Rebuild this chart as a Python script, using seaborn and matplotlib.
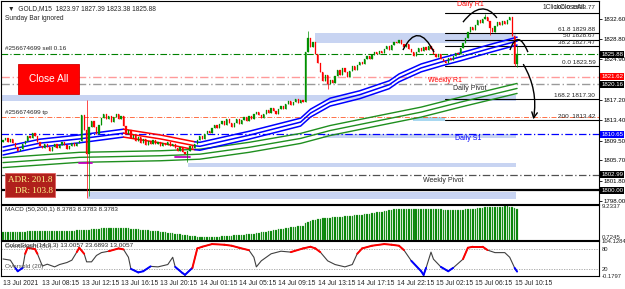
import numpy as np
import matplotlib
matplotlib.use("Agg")
import matplotlib.pyplot as plt
import seaborn as sns
from matplotlib.patches import Rectangle, PathPatch
from matplotlib.path import Path

# ---------------- data (GOLD M15) ----------------
closes = [
    1809.6, 1809.9, 1809.3, 1809.7, 1809.0, 1808.2, 1807.6, 1807.9, 1808.8, 1809.5, 1810.3, 1810.0, 1811.0, 1810.4, 1809.2, 1808.4,
    1808.0, 1808.9, 1808.3, 1807.5, 1808.2, 1808.9, 1808.1, 1808.6, 1809.3, 1808.7, 1807.9, 1808.5, 1809.1, 1808.4, 1809.0, 1809.4,
    1814.3, 1811.5, 1807.0, 1812.0, 1813.2, 1812.0, 1810.8, 1812.5, 1813.8, 1814.6, 1813.5, 1814.2, 1813.0, 1813.9, 1814.5, 1813.6,
    1814.1, 1812.3, 1810.8, 1811.5, 1809.9, 1810.6, 1809.4, 1810.2, 1809.0, 1809.8, 1808.7, 1809.5, 1808.9, 1809.6, 1808.8, 1809.3,
    1808.5, 1809.1, 1808.6, 1809.2, 1808.4, 1808.9, 1808.1, 1807.6, 1808.2, 1807.4, 1806.9, 1807.6, 1808.4, 1808.0, 1808.9, 1809.6,
    1810.3, 1809.8, 1810.7, 1811.4, 1811.0, 1811.9, 1812.4, 1811.8, 1812.6, 1813.2, 1812.5, 1813.6, 1812.9, 1812.1, 1812.8, 1813.5,
    1812.7, 1813.4, 1814.0, 1813.3, 1814.2, 1813.6, 1814.5, 1815.0, 1814.3, 1813.7, 1814.6, 1815.3, 1814.8, 1815.6, 1815.1, 1814.5,
    1815.4, 1816.0, 1815.5, 1816.4, 1817.0, 1816.3, 1816.8, 1817.4, 1816.6, 1817.2, 1816.9, 1826.3, 1829.0, 1827.2, 1828.3, 1826.0,
    1824.3, 1822.6, 1820.8, 1821.9, 1820.2, 1821.0, 1820.4, 1821.8, 1822.9, 1822.0, 1823.3, 1822.5, 1821.6, 1822.8, 1823.6, 1822.9,
    1823.8, 1824.5, 1824.0, 1824.9, 1825.6, 1825.0, 1825.8, 1826.3, 1825.9, 1826.6, 1826.1, 1826.9, 1827.4, 1826.8, 1827.6, 1828.3,
    1828.0, 1828.7, 1827.9, 1827.2, 1827.8, 1826.9, 1826.3, 1825.5, 1826.4, 1827.0, 1826.5, 1827.3, 1826.8, 1827.5, 1826.9, 1826.0,
    1825.4, 1825.9, 1825.0, 1824.6, 1824.3, 1825.1, 1824.8, 1825.6, 1826.2, 1825.9, 1827.1, 1828.0, 1829.0, 1830.1, 1831.0, 1830.6,
    1831.5, 1832.4, 1831.8, 1832.6, 1833.0, 1832.2, 1830.8, 1830.2, 1831.3, 1832.0, 1831.5, 1832.3, 1831.7, 1832.4, 1832.9, 1829.4,
    1823.97, 1825.88,
]
first_open = 1809.2
wick_high = {34: 1817.2, 124: 1830.4, 196: 1833.6, 209: 1827.39}
wick_low = {34: 1798.5, 35: 1799.0, 75: 1805.5, 132: 1819.2, 198: 1829.6, 208: 1823.59, 209: 1823.38}

# wave MA (middle line) and slow MA (middle line), sampled along the chart
fast_bars = [0, 15, 31, 49, 64, 78, 80, 100, 121, 125, 133, 145, 157, 161, 170, 178, 186, 198, 209]
fast_mid = [1807.5, 1809.0, 1809.8, 1810.9, 1809.8, 1808.5, 1808.4, 1810.5, 1813.0, 1814.7, 1816.8,
            1818.2, 1820.1, 1821.4, 1823.3, 1824.4, 1825.4, 1827.0, 1828.4]
fast_spread = 0.75
fast_falling = (49, 78)
slow_bars = [0, 31, 64, 80, 100, 121, 133, 153, 170, 186, 209]
slow_mid = [1805.3, 1806.3, 1806.6, 1806.9, 1808.2, 1809.9, 1811.4, 1813.3, 1814.9, 1816.8, 1819.4]
slow_spread = 0.95

macd_hist = [
    2.10, 2.12, 2.15, 2.13, 2.15, 2.18, 2.17, 2.20, 2.22, 2.25, 2.27, 2.28, 2.30, 2.32, 2.33, 2.32,
    2.33, 2.35, 2.36, 2.35, 2.37, 2.38, 2.40, 2.42, 2.43, 2.45, 2.46, 2.48, 2.50, 2.52, 2.55, 2.58,
    2.70, 2.78, 2.62, 2.80, 2.88, 2.95, 2.98, 3.05, 3.10, 3.15, 3.18, 3.20, 3.22, 3.24, 3.25, 3.26,
    3.27, 3.24, 3.18, 3.12, 3.05, 2.98, 2.92, 2.85, 2.78, 2.72, 2.65, 2.58, 2.52, 2.45, 2.38, 2.30,
    2.22, 2.13, 2.04, 1.95, 1.86, 1.77, 1.67, 1.57, 1.48, 1.38, 1.28, 1.18, 1.08, 0.98, 0.90, 0.83,
    0.78, 0.75, 0.73, 0.72, 0.73, 0.75, 0.78, 0.82, 0.86, 0.90, 0.95, 1.00, 1.05, 1.10, 1.15, 1.20,
    1.27, 1.33, 1.40, 1.47, 1.55, 1.62, 1.70, 1.80, 1.90, 2.00, 2.10, 2.22, 2.34, 2.46, 2.58, 2.70,
    2.82, 2.95, 3.08, 3.20, 3.32, 3.42, 3.52, 3.60, 3.68, 3.75, 3.85, 4.55, 4.95, 5.20, 5.40, 5.58,
    5.72, 5.84, 5.92, 6.00, 6.06, 6.12, 6.18, 6.24, 6.30, 6.36, 6.42, 6.48, 6.55, 6.62, 6.68, 6.75,
    6.82, 6.90, 6.98, 7.06, 7.15, 7.24, 7.34, 7.44, 7.55, 7.66, 7.78, 7.90, 8.02, 8.14, 8.26, 8.38,
    8.48, 8.55, 8.60, 8.62, 8.63, 8.62, 8.60, 8.58, 8.56, 8.55, 8.54, 8.53, 8.52, 8.50, 8.48, 8.46,
    8.44, 8.42, 8.40, 8.36, 8.30, 8.26, 8.24, 8.25, 8.27, 8.30, 8.33, 8.36, 8.40, 8.44, 8.50, 8.56,
    8.62, 8.70, 8.78, 8.86, 8.93, 8.98, 9.02, 9.06, 9.10, 9.14, 9.17, 9.20, 9.22, 9.23, 9.20, 9.05,
    8.72, 8.38,
]

stoch_bars = [0, 3, 5, 6, 8, 9, 10, 13, 14, 16, 18, 21, 23, 26, 28, 30, 31, 33, 34, 36, 38, 40, 43, 47, 49,
              51, 52, 55, 57, 60, 63, 67, 69, 70, 73, 74, 77, 79, 81, 85, 90, 93, 96, 100, 102, 103, 105,
              109, 113, 117, 122, 125, 127, 129, 132, 135, 139, 142, 144, 146, 150, 155, 158, 161, 163,
              166, 170, 171, 172, 174, 175, 178, 181, 183, 187, 189, 191, 195, 197, 200, 204, 206, 208, 209]
stoch_vals = [50.6, 47, 24, 14, 24, 66, 84, 80, 66, 29.5, 35, 27, 34, 40, 47, 71, 84, 66, 42, 42, 61, 69.5,
              73.7, 82, 79, 55.6, 21, 10.5, 14, 28.5, 27, 34, 55.6, 27, 8.4, 3.3, 24, 82, 87, 95, 93, 90, 84,
              76.7, 55.6, 27, 45, 66, 73.7, 71, 82, 87, 82, 71, 45, 34, 27, 34, 66, 82, 90, 95, 93, 90, 77,
              45, 14, 3, 24, 71, 50, 27, 14, 24, 50, 84, 87, 87, 77, 69.5, 69.5, 55.6, 24, 13.0]

time_labels = ["13 Jul 2021", "13 Jul 08:15", "13 Jul 12:15", "13 Jul 16:15", "13 Jul 20:15",
               "14 Jul 01:15", "14 Jul 05:15", "14 Jul 09:15", "14 Jul 13:15", "14 Jul 17:15",
               "14 Jul 22:15", "15 Jul 02:15", "15 Jul 06:15", "15 Jul 10:15"]
time_label_bars = [0, 16, 32, 48, 64, 80, 96, 112, 128, 144, 160, 176, 192, 208]

price_ticks = [1832.60, 1828.80, 1824.90, 1817.20, 1813.40, 1809.50, 1805.70, 1801.80, 1798.00]

# horizontal levels: price, colour, style, width
levels = [
    (1825.95, "#008000", (0, (6, 2, 1, 2)), 0.8),  # sell order
    (1821.62, "#ff9a9a", (0, (6, 2, 1, 2)), 1.0),  # weekly R1
    (1820.16, "#9a9a9a", (0, (6, 2, 1, 2)), 1.0),  # daily pivot
    (1813.95, "#ff5a2a", (0, (6, 2, 1, 2)), 0.6),  # tp
    (1810.65, "#0000ff", (0, (6, 2, 1, 2)), 0.9),  # daily S1
    (1802.99, "#505050", (0, (6, 2, 1, 2)), 0.9),  # weekly pivot
    (1800.00, "#000000", "-", 1.6),
]
price_tags = [(1825.88, "black"), (1821.62, "#ff0000"), (1820.16, "black"),
              (1810.65, "#0000ff"), (1802.99, "black"), (1800.00, "black")]

fib_start = 179.7
fib_levels = [(1833.77, ""), (1829.88, "61.8 1829.88"), (1828.67, "50 1828.67"), (1827.47, "38.2 1827.47"),
              (1823.59, "0.0 1823.59"), (1817.30, "168.2 1817.30"), (1813.42, "200  1813.42")]

# zones: bar from, bar to, price low, price high, colour
zones = [
    (126.8, 208.5, 1828.0, 1829.9, "#c8d4f2"),
    (-1, 208.5, 1817.0, 1818.15, "#c8d4f2"),
    (166.7, 179.7, 1813.2, 1813.97, "#a8d8f0"),
    (130, 208.5, 1810.0, 1810.74, "#c8d4f2"),
    (75.2, 208.5, 1804.46, 1805.2, "#c8d4f2"),
    (34.6, 208.5, 1798.4, 1799.7, "#c8d4f2"),
]

# hand drawn curves (start, control, end) in bar/price
curves = [
    ((162.6, 1826.7), (168.7, 1832.4), (175.2, 1826.3)),
    ((187.0, 1832.0), (194.7, 1836.6), (200.8, 1832.8)),
    ((206.1, 1826.7), (209.3, 1830.9), (213.4, 1826.3)),
]
arrow = ((211.0, 1824.4), (215.4, 1813.0))

# ---------------- figure ----------------
W, H = 625, 289
sns.set_style("white")
plt.rcParams["font.family"] = ["Liberation Sans", "DejaVu Sans"]

fig = plt.figure(figsize=(W / 100, H / 100), dpi=100)


def box(x0, y0, x1, y1):
    return [x0 / W, 1 - y1 / H, (x1 - x0) / W, (y1 - y0) / H]


ax = fig.add_axes(box(1, 1, 599, 204))
axm = fig.add_axes(box(1, 205, 599, 240))
axs = fig.add_axes(box(1, 241, 599, 276))
xlim = (-0.81, 242.3)

n = len(closes)
idx = np.arange(n)
c = np.array(closes)
o = np.r_[first_open, c[:-1]]
body_lo = np.minimum(o, c)
hi = np.maximum(o, c)
lo = body_lo.copy()
for k, v in wick_high.items():
    hi[k] = v
for k, v in wick_low.items():
    lo[k] = v
cols = np.where(c >= o, "#009000", "#ff0000")

# zones and levels
for b0, b1, p0, p1, col in zones:
    ax.add_patch(Rectangle((b0, p0), b1 - b0, p1 - p0, fc=col, ec="none", zorder=0))
for p, col, ls, lw in levels:
    ax.axhline(p, color=col, ls=ls, lw=lw, zorder=1)
for p, lab in fib_levels:
    ax.plot([fib_start, xlim[1]], [p, p], color="black", lw=0.8, zorder=2)
    if lab:
        ax.text(240.8, p + 0.25, lab, fontsize=4.6, ha="right", va="bottom", zorder=6)

# slow MA band
for off in (-slow_spread, 0, slow_spread):
    sns.lineplot(x=slow_bars, y=np.array(slow_mid) + off, ax=ax, color="#1f8f1f", lw=1.0, zorder=3)

# wave MA band, red while falling
fb = np.array(fast_bars)
fm = np.array(fast_mid)
parts = [(fb <= fast_falling[0], "#0000ff"),
         ((fb >= fast_falling[0]) & (fb <= fast_falling[1]), "#ff0000"),
         (fb >= fast_falling[1], "#0000ff")]
for off in (-fast_spread, 0, fast_spread):
    for m, col in parts:
        sns.lineplot(x=fb[m], y=fm[m] + off, ax=ax, color=col, lw=1.1, zorder=3)

ax.plot([31, 36], [1805.2, 1805.2], color="#c000c0", lw=1.3, zorder=3)
ax.plot([70, 76], [1806.4, 1806.4], color="#c000c0", lw=1.3, zorder=3)

# candles
ax.vlines(idx, lo, hi, colors=cols, lw=0.5, zorder=4)
ax.bar(idx, np.maximum(np.abs(c - o), 0.08), bottom=body_lo,
       width=0.5, color=cols, edgecolor=cols, lw=0.2, zorder=4)

# drawings
for p0, pc, p1 in curves:
    ax.add_patch(PathPatch(Path([p0, pc, p1], [Path.MOVETO, Path.CURVE3, Path.CURVE3]),
                           fc="none", ec="black", lw=1.0, zorder=7))
ax.annotate("", xy=arrow[1], xytext=arrow[0],
            arrowprops=dict(arrowstyle="->", color="black", lw=1.0,
                            connectionstyle="arc3,rad=-0.2"), zorder=7)

ax.set_xlim(*xlim)
ax.set_ylim(1797.43, 1836.02)
ax.yaxis.tick_right()
ax.set_yticks(price_ticks)
ax.set_yticklabels([f"{t:.2f}" for t in price_ticks])
ax.set_xticks([])
ax.tick_params(axis="y", length=2, width=0.6, pad=1, labelsize=4.4, colors="black")
ytr = ax.get_yaxis_transform()
for p, col in price_tags:
    ax.text(1.004, p, f"{p:.2f}", transform=ytr, fontsize=4.4, color="white", ha="left", va="center",
            bbox=dict(fc=col, ec="none", pad=0.7), zorder=8, clip_on=False)

# labels on main chart
ax.text(0.012, 0.965, "\u25bc  GOLD,M15  1823.97 1827.39 1823.38 1825.88", transform=ax.transAxes,
        fontsize=4.8, va="center")
ax.text(0.006, 0.915, "Sunday Bar ignored", transform=ax.transAxes, fontsize=4.8, va="center")
ax.text(0.006, 0.765, "#256674699 sell 0.16", transform=ax.transAxes, fontsize=4.6, va="center")
ax.text(0.006, 0.45, "#256674699 tp", transform=ax.transAxes, fontsize=4.6, va="center")
ax.text(184.5, 1835.3, "Daily R1", fontsize=5, color="#ff0000", va="center")
ax.text(219.2, 1834.7, "1ClickCloseAll", fontsize=4.8, va="center")
ax.text(240.8, 1834.7, "100.0 1833.77", fontsize=4.6, ha="right", va="center")
ax.text(172.7, 1820.9, "Weekly R1", fontsize=5, color="#ff0000", va="center")
ax.text(182.9, 1819.3, "Daily Pivot", fontsize=5, va="center")
ax.text(183.7, 1809.8, "Daily S1", fontsize=5, color="#0000ff", va="center")
ax.text(170.7, 1801.9, "Weekly Pivot", fontsize=5, va="center")

# Close All button and ADR box (pixel placed)
fig.add_artist(Rectangle((18 / W, 1 - 94 / H), 61 / W, 30 / H, transform=fig.transFigure,
                         fc="#ff0000", ec="#d00000", lw=0.6))
fig.text(48.5 / W, 1 - 79.5 / H, "Close All", color="white", fontsize=7.3, ha="center", va="center")
fig.add_artist(Rectangle((5 / W, 1 - 197 / H), 50 / W, 24 / H, transform=fig.transFigure,
                         fc="#b0201c", ec="#e06060", lw=0.6))
fig.text(8 / W, 1 - 180 / H, "ADR: 201.8", color="#ffff90", fontsize=6.6, va="center", family="Liberation Serif")
fig.text(15 / W, 1 - 191 / H, "DR: 103.8", color="#ffff90", fontsize=6.6, va="center", family="Liberation Serif")

# MACD panel
axm.bar(idx, macd_hist, width=0.6, color="#008000", edgecolor="#55b055", lw=0.2)
axm.set_xlim(*xlim)
axm.set_ylim(-0.1, 9.62)
axm.set_xticks([])
axm.yaxis.tick_right()
axm.set_yticks([9.2337, 0.7245])
axm.set_yticklabels(["9.2337", "0.7245"])
axm.tick_params(axis="y", length=0, pad=2, labelsize=4.4)
axm.text(0.006, 0.86, "MACD (50,200,1) 8.3783 8.3783 8.3783", transform=axm.transAxes, fontsize=4.6, va="center")

# Stochastic panel
axs.axhline(80, color="#a0a0a0", ls=(0, (1.5, 1.5)), lw=0.6)
axs.axhline(20, color="#a0a0a0", ls=(0, (1.5, 1.5)), lw=0.6)
sns.lineplot(x=stoch_bars, y=stoch_vals, ax=axs, color="#404040", lw=0.8)
sb = np.array(stoch_bars)
sv = np.array(stoch_vals)
for i in range(len(sb) - 1):
    seg_hi = max(sv[i], sv[i + 1])
    seg_lo = min(sv[i], sv[i + 1])
    if seg_hi >= 80:
        axs.plot(sb[i:i + 2], sv[i:i + 2], color="#ff0000", lw=1.4, solid_capstyle="round")
    elif seg_lo <= 20:
        axs.plot(sb[i:i + 2], sv[i:i + 2], color="#0000ff", lw=1.4, solid_capstyle="round")
axs.set_xlim(*xlim)
axs.set_ylim(-0.1797, 104.1284)
axs.yaxis.tick_right()
axs.set_yticks([104.1284, 80, 20, -0.1797])
axs.set_yticklabels(["104.1284", "80", "20", "-0.1797"])
axs.tick_params(axis="y", length=0, pad=2, labelsize=4.2)
axs.text(0.006, 0.86, "ColorStoch(14,3,3) 13.0057 23.6893 13.0057", transform=axs.transAxes, fontsize=4.6, va="center")
axs.text(0.006, 0.84, "Overbought (80)", transform=axs.transAxes, fontsize=4.6, va="center", color="#505050")
axs.text(0.006, 0.27, "Oversold (20)", transform=axs.transAxes, fontsize=4.6, va="center", color="#505050")
axs.set_xticks(time_label_bars)
axs.set_xticklabels(time_labels, ha="left")
axs.tick_params(axis="x", length=2, width=0.6, pad=1, labelsize=4.9)

for a in (ax, axm, axs):
    a.set_ylabel("")
    a.set_xlabel("")
    for s in a.spines.values():
        s.set_color("black")
        s.set_linewidth(0.8)

fig.savefig("out.png", dpi=100)
